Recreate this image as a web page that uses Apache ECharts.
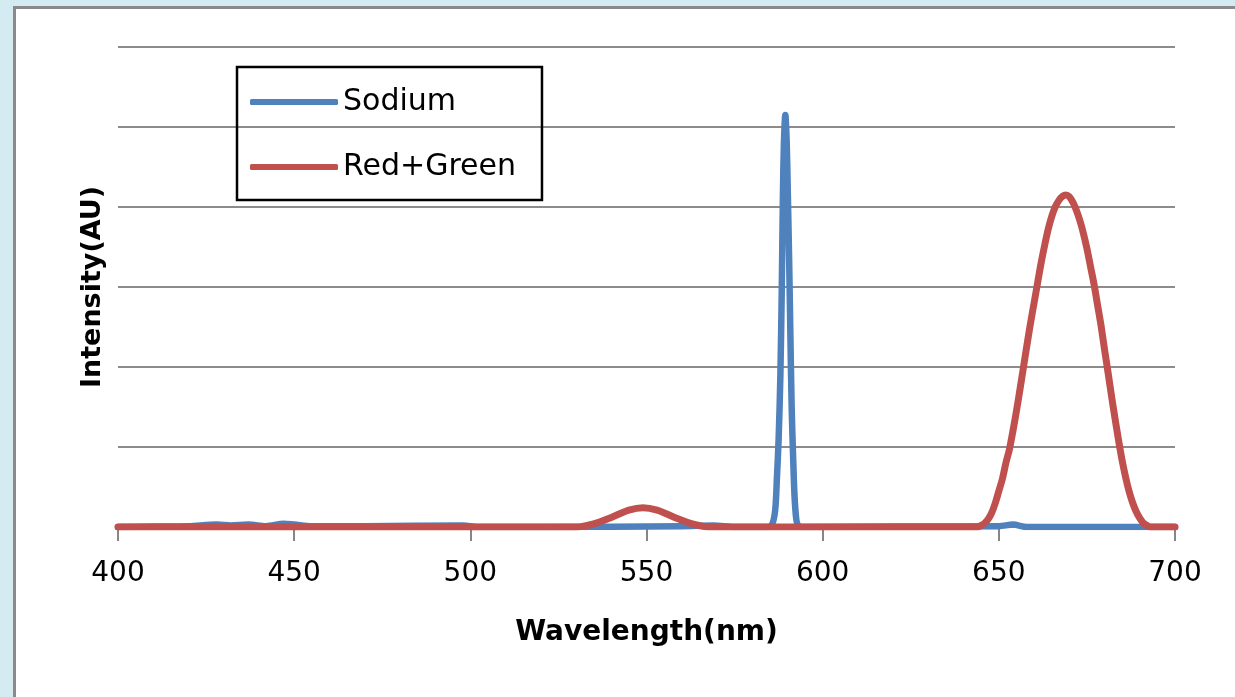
<!DOCTYPE html>
<html>
<head>
<meta charset="utf-8">
<script src="https://cdn.jsdelivr.net/npm/echarts@6/dist/echarts.min.js"></script>
<style>
  html, body { margin: 0; padding: 0; }
  body {
    width: 1235px; height: 697px; overflow: hidden; position: relative;
    background: #d4ecf1;
  }
  #panel {
    position: absolute; left: 13px; top: 6px; width: 1300px; height: 760px;
    background: #fff; border: 3px solid #8a8a8a; box-sizing: border-box;
  }
  #chart { position: absolute; left: 0; top: 0; width: 1235px; height: 697px; }
</style>
</head>
<body>
<div id="panel"></div>
<div id="chart"></div>
<script>
// Sodium lamp spectrum (wavelength nm, intensity AU)
const sodiumX = [400, 410, 420, 428, 432, 437, 442, 447, 450, 455, 470, 498, 502, 520, 560, 569, 575,
  584, 585.5, 586.5, 587, 587.5, 588, 588.4, 588.7, 589, 589.4, 589.8, 590.1, 590.5, 590.8, 591.2, 591.6, 592, 592.5, 593, 594,
  620, 650, 654, 658, 700];
const sodiumY = [0, 0.005, 0.01, 0.03, 0.02, 0.03, 0.01, 0.04, 0.03, 0.01, 0.01, 0.02, 0, 0, 0.01, 0.02, 0,
  0, 0.02, 0.2, 0.6, 1.1, 1.9, 3.0, 4.1, 4.8, 5.15, 4.8, 4.2, 3.3, 2.5, 1.5, 0.9, 0.4, 0.1, 0.02, 0,
  0.005, 0.01, 0.03, 0, 0];

// Red+Green source spectrum
const rgX = [400, 530, 535, 540, 545, 549, 553, 558, 563, 568, 640,
  644, 645, 646, 647, 648, 649, 650, 651, 652, 653, 654, 655, 656, 657, 658, 659, 660, 661, 662, 663, 664, 665, 666, 667, 668,
  669, 670, 671, 672, 673, 674, 675, 676, 677, 678, 679, 680, 681, 682, 683, 684, 685, 686, 687, 688, 689, 690, 691, 692, 693, 700];
const rgY = [0, 0, 0.04, 0.12, 0.21, 0.24, 0.21, 0.12, 0.04, 0, 0,
  0, 0.02, 0.05, 0.1, 0.18, 0.3, 0.45, 0.6, 0.8, 0.97, 1.2, 1.45, 1.72, 2.0, 2.28, 2.55, 2.8, 3.05, 3.3, 3.52, 3.72, 3.88, 4.0, 4.08, 4.13,
  4.15, 4.13, 4.06, 3.96, 3.83, 3.67, 3.48, 3.26, 3.04, 2.78, 2.52, 2.22, 1.93, 1.63, 1.35, 1.08, 0.83, 0.62, 0.44, 0.3, 0.19, 0.11, 0.05, 0.02, 0, 0];

const seriesNames = ["Sodium", "Red+Green"];
const seriesColors = ["#4f81bd", "#c0504d"];

const pairs = (xs, ys) => xs.map((x, i) => [x, ys[i]]);

const chart = echarts.init(document.getElementById("chart"), null, { renderer: "canvas" });
const font = "DejaVu Sans";

chart.setOption({
  animation: false,
  backgroundColor: "transparent",
  grid: { left: 118, right: 60, top: 47, bottom: 170 },
  legend: {
    orient: "vertical",
    left: 237,
    top: 67,
    data: seriesNames,
    icon: "roundRect",
    itemWidth: 88,
    itemHeight: 6,
    itemGap: 35,
    padding: [20, 26, 18, 13],
    borderColor: "#000",
    borderWidth: 2.5,
    textStyle: { fontFamily: font, fontSize: 30, color: "#000" },
  },
  xAxis: {
    type: "value",
    min: 400,
    max: 700,
    interval: 50,
    name: "Wavelength(nm)",
    nameLocation: "middle",
    nameGap: 92,
    nameTextStyle: { fontFamily: font, fontSize: 28, fontWeight: "bold", color: "#000" },
    axisLine: { lineStyle: { color: "#868686", width: 2 } },
    axisTick: { length: 14, lineStyle: { color: "#868686", width: 2 } },
    axisLabel: { margin: 33, fontFamily: font, fontSize: 28, color: "#000" },
    splitLine: { show: false },
  },
  yAxis: {
    type: "value",
    min: 0,
    max: 6,
    interval: 1,
    name: "Intensity(AU)",
    nameLocation: "middle",
    nameRotate: 90,
    nameGap: 12,
    nameTextStyle: { fontFamily: font, fontSize: 27, fontWeight: "bold", color: "#000" },
    axisLine: { show: false },
    axisTick: { show: false },
    axisLabel: { show: false },
    splitLine: { lineStyle: { color: "#8c8c8c", width: 2 } },
  },
  series: [
    {
      name: seriesNames[0],
      type: "line",
      data: pairs(sodiumX, sodiumY),
      showSymbol: false,
      smooth: 0.3,
      color: seriesColors[0],
      lineStyle: { width: 6.5, cap: "round", join: "round" },
    },
    {
      name: seriesNames[1],
      type: "line",
      data: pairs(rgX, rgY),
      showSymbol: false,
      smooth: 0.3,
      color: seriesColors[1],
      lineStyle: { width: 7, cap: "round", join: "round" },
    },
  ],
});
</script>
</body>
</html>
